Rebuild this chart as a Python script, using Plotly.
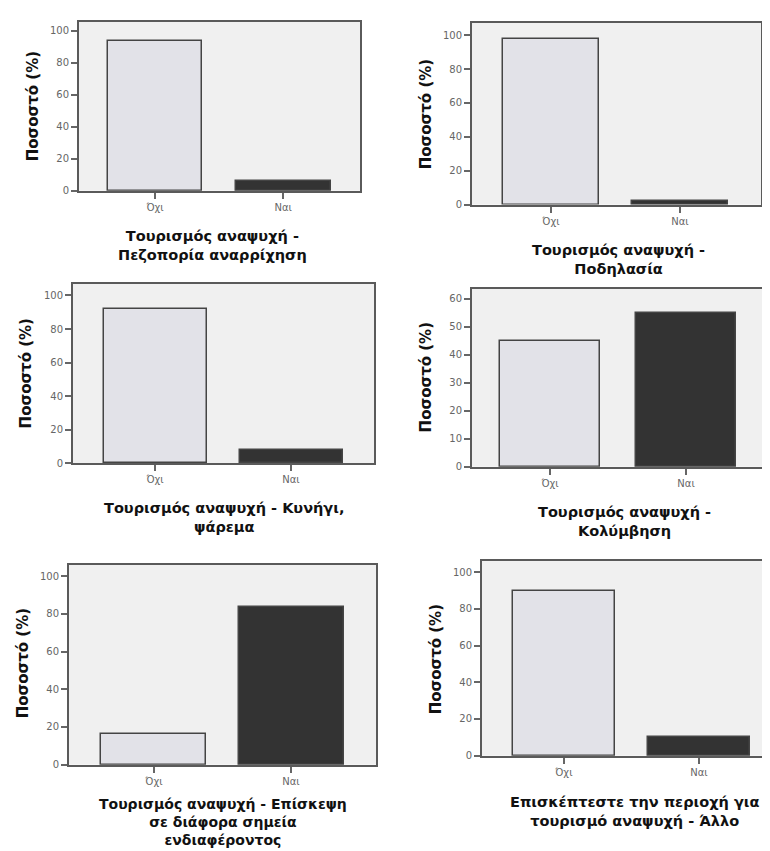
import plotly.graph_objects as go

# ---------------- data ----------------
categories = ["Όχι", "Ναι"]
ochi_values = [93.8, 97.7, 92.0, 45.0, 16.5, 89.6]
nai_values = [6.2, 2.3, 8.0, 55.0, 83.5, 10.4]
x_titles = [
    ["Τουρισμός αναψυχή -", "Πεζοπορία αναρρίχηση"],
    ["Τουρισμός αναψυχή -", "Ποδηλασία"],
    ["Τουρισμός αναψυχή - Κυνήγι,", "ψάρεμα"],
    ["Τουρισμός αναψυχή -", "Κολύμβηση"],
    ["Τουρισμός αναψυχή - Επίσκεψη", "σε διάφορα σημεία", "ενδιαφέροντος"],
    ["Επισκέπτεστε την περιοχή για", "τουρισμό αναψυχή - Άλλο"],
]
y_title = "Ποσοστό (%)"
y_tick_steps = [20, 20, 20, 10, 20, 20]
y_tick_max = [100, 100, 100, 60, 100, 100]

# ---------------- layout geometry (pixels) ----------------
W, H = 770, 851
# left, right, top, bottom(=zero line), ymax, xmin, xmax, bar width
geom = [
    (71, 352, 14, 184, 105.6, -0.594, 1.600, 0.74),
    (464, 753, 15, 198, 107.2, -0.612, 1.628, 0.745),
    (65, 366, 278, 458.5, 106.8, -0.603, 1.610, 0.757),
    (464, 758, 283, 462, 63.4, -0.574, 1.588, 0.74),
    (61, 368, 561, 762, 106.0, -0.620, 1.620, 0.766),
    (474, 766, 557, 753, 106.0, -0.606, 1.555, 0.76),
]
ytitle_pos = [(25, 99), (418, 107), (18, 368), (418, 372), (15, 660), (428, 656)]
# x-title block centre (x, y) and font size
xtitle_pos = [(205, 239, 14.5), (610, 253, 14.5), (216, 513, 14.5),
              (616, 517, 14.5), (215, 820, 14), (626, 809, 14.5)]

light_fill = "#e2e2e8"
dark_fill = "#333333"
edge = "#444444"
frame = "#5a5a5a"
bg = "#f0f0f0"
tick_col = "#666666"

fig = go.Figure()
layout = dict(
    width=W, height=H, margin=dict(l=0, r=0, t=0, b=0),
    paper_bgcolor="white", plot_bgcolor=bg, showlegend=False,
    bargap=0, annotations=[],
)

for i in range(6):
    l, r, t, b, ymax, xmin, xmax, bw = geom[i]
    sfx = "" if i == 0 else str(i + 1)
    fig.add_trace(go.Bar(
        x=categories, y=[ochi_values[i], nai_values[i]],
        width=[bw, bw],
        marker=dict(color=[light_fill, dark_fill], line=dict(color=edge, width=1.5)),
        xaxis="x" + sfx, yaxis="y" + sfx, hoverinfo="x+y",
    ))
    layout["xaxis" + sfx] = dict(
        domain=[l / W, r / W], anchor="y" + sfx, type="category",
        categoryorder="array", categoryarray=categories,
        range=[xmin, xmax], showgrid=False, zeroline=False,
        showline=True, mirror=True, linecolor=frame, linewidth=2,
        ticks="outside", ticklen=6, tickwidth=1.5, tickcolor=tick_col,
        tickfont=dict(family="DejaVu Sans", size=10, color=tick_col),
    )
    layout["yaxis" + sfx] = dict(
        domain=[1 - b / H, 1 - t / H], anchor="x" + sfx,
        range=[0, ymax], showgrid=False, zeroline=False,
        tickvals=list(range(0, y_tick_max[i] + 1, y_tick_steps[i])),
        showline=True, mirror=True, linecolor=frame, linewidth=2,
        ticks="outside", ticklen=6, tickwidth=1.5, tickcolor=tick_col,
        tickfont=dict(family="DejaVu Sans", size=10, color=tick_col),
    )
    yx, yy = ytitle_pos[i]
    layout["annotations"].append(dict(
        text=y_title, x=yx / W, y=1 - yy / H, xref="paper", yref="paper",
        textangle=-90, showarrow=False, xanchor="center", yanchor="middle",
        font=dict(family="DejaVu Sans", size=15, color="#111111", weight="bold"),
    ))
    cx, cy, fs = xtitle_pos[i]
    layout["annotations"].append(dict(
        text="<br>".join(x_titles[i]), x=cx / W, y=1 - cy / H,
        xref="paper", yref="paper", align="center",
        showarrow=False, xanchor="center", yanchor="middle",
        font=dict(family="DejaVu Sans", size=fs, color="#111111", weight="bold"),
    ))

fig.update_layout(**layout)
fig.write_html("out.html")
